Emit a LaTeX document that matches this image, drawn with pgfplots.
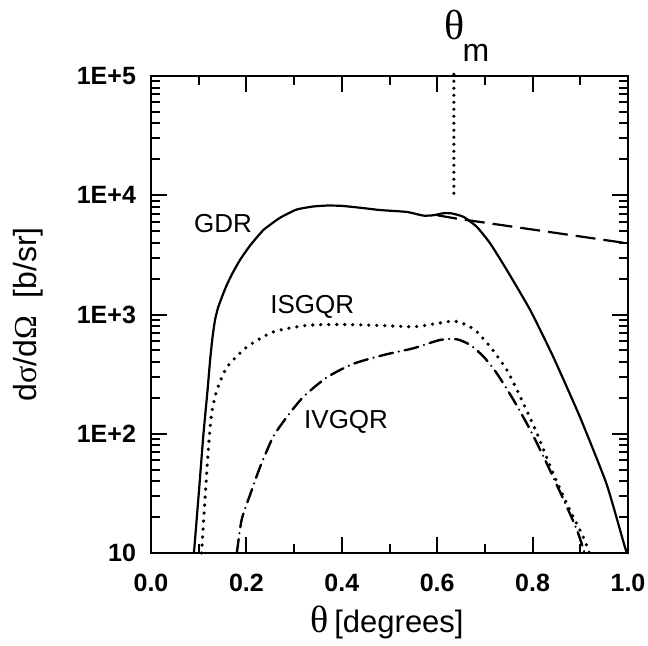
\documentclass[border=0pt]{standalone}
\usepackage{pgfplots}
\pgfplotsset{compat=1.18}
\usepackage{fontspec}
\setmainfont{Liberation Sans}
\newfontfamily\symb{Liberation Serif}
\begin{document}
\begin{tikzpicture}
\begin{axis}[
  width=238.5pt, height=238.5pt, scale only axis,
  xmin=0, xmax=1, ymode=log, ymin=10, ymax=1e5,
  clip=false,
  axis line style={line width=1.2pt},
  every tick/.style={line width=1pt, black},
  major tick length=8pt, minor tick length=4.5pt,
  tick align=inside, tick pos=both,
  xtick={0,0.2,0.4,0.6,0.8,1.0},
  xticklabels={0.0,0.2,0.4,0.6,0.8,1.0},
  minor xtick={0.1,0.3,0.5,0.7,0.9},
  ytick={10,100,1000,10000,100000},
  yticklabels={10,1E+2,1E+3,1E+4,1E+5},
  ticklabel style={font=\fontsize{12.5}{14}\selectfont\bfseries},
  xticklabel style={yshift=-7pt},
  yticklabel style={xshift=-4pt},
  xlabel={{\symb\fontsize{19}{20}\selectfont θ} {\fontsize{15.5}{17}\selectfont [degrees]}},
  xlabel style={at={(axis description cs:0.495,-0.145)}, anchor=center},
  ylabel={{\fontsize{16}{17}\selectfont d{\symb σ}/d{\symb Ω}\ \ [b/sr]}},
  ylabel style={at={(axis description cs:-0.258,0.5)}, anchor=center, rotate=0},
]
% GDR solid
\addplot[black, line width=1.1pt, smooth, tension=0.3] coordinates {
(0.090,10) (0.100,31) (0.110,100) (0.118,219) (0.124,417) (0.129,646) (0.134,891) (0.140,1122)
(0.148,1380) (0.158,1738) (0.170,2188) (0.187,2884) (0.208,3802) (0.236,5129) (0.270,6457)
(0.305,7586) (0.340,8050) (0.370,8200) (0.400,8150) (0.440,7850) (0.480,7520) (0.536,7250)
(0.571,6750) (0.592,6800) (0.613,7070) (0.630,7050)
(0.655,6600) (0.683,5440) (0.711,3950) (0.746,2360) (0.795,1090) (0.843,444) (0.899,139)
(0.955,38) (0.993,11.4) (0.998,10)
};
% GDR dashed continuation
\addplot[black, line width=1.1pt, dash pattern=on 10pt off 4pt] coordinates {
(0.60,6800) (0.637,6410) (1.0,3950)
};
% ISGQR dotted
\addplot[black, line width=1.8pt, line cap=round, dash pattern=on 0pt off 4pt, smooth, tension=0.4] coordinates {
(0.106,10) (0.113,27.6) (0.120,72) (0.127,147) (0.138,231) (0.159,361) (0.201,534) (0.256,714)
(0.326,810) (0.396,825) (0.480,810) (0.550,790) (0.592,832) (0.634,881) (0.662,816) (0.683,717)
(0.711,537) (0.746,343) (0.774,205) (0.809,101) (0.843,46.6) (0.878,23) (0.906,13.7) (0.919,10)
};
% IVGQR dash-dot
\addplot[black, line width=1.2pt, line cap=round, dash pattern=on 7pt off 3pt on 0pt off 3pt, smooth, tension=0.4] coordinates {
(0.180,10) (0.190,19) (0.208,31) (0.229,53) (0.256,94) (0.284,137) (0.319,203) (0.368,296)
(0.424,386) (0.490,460) (0.550,521) (0.606,612) (0.641,620) (0.669,556) (0.697,444) (0.725,321)
(0.760,192) (0.795,108) (0.830,56) (0.865,28) (0.893,15.6) (0.909,10)
};
% theta_m marker
\addplot[black, line width=1.7pt, line cap=round, dash pattern=on 0pt off 3.5pt] coordinates {
(0.635,10400) (0.635,116000)
};
\node[font=\fontsize{13}{14}\selectfont] at (axis cs:0.151,5740) {GDR};
\node[font=\fontsize{13}{14}\selectfont] at (axis cs:0.338,1160) {ISGQR};
\node[font=\fontsize{13}{14}\selectfont] at (axis cs:0.409,125) {IVGQR};
\node[font=\symb\fontsize{21}{22}\selectfont] at (axis cs:0.636,270000) {θ};
\node[font=\fontsize{16}{17}\selectfont] at (axis cs:0.681,155000) {m};
\end{axis}
\pgfresetboundingbox
\path (-75.5pt,-46pt) rectangle (248.5pt,276.5pt);
\end{tikzpicture}
\end{document}
